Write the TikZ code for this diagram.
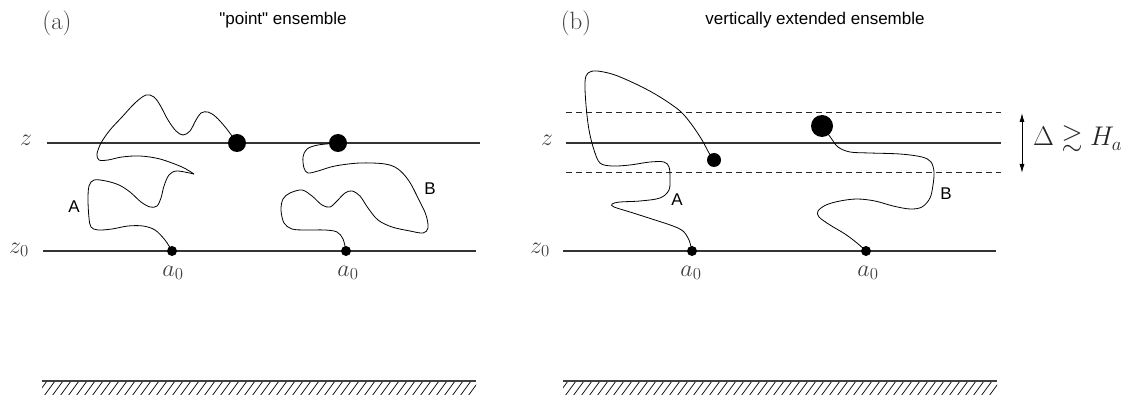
\RequirePackage{fix-cm}
\documentclass[tikz,border=0pt]{standalone}
\usepackage{amssymb}
\usepackage{fontspec}
\newfontfamily\lsans{Liberation Sans}
\usetikzlibrary{arrows.meta}
\tikzset{
  lvl/.style={line width=1.2pt, draw=black!80},
  dashlvl/.style={line width=1pt, draw=black!85, dash pattern=on 6pt off 4pt},
  walk/.style={line width=0.8pt, draw=black},
  dot/.style={circle, fill=black, inner sep=0pt, minimum size=#1},
  mlab/.style={text=black!75, font=\fontsize{24}{28}\selectfont},
  plab/.style={text=black!75, font=\fontsize{25}{29}\selectfont},
  slab/.style={font=\lsans\fontsize{17}{20}\selectfont},
  ground/.style={line width=1.5pt, draw=black!75},
  hatchline/.style={line width=0.7pt, draw=black},
}
\begin{document}
\begin{tikzpicture}[x=1pt,y=-1pt]
\useasboundingbox (0,0) rectangle (1128,395);

% ---------------- panel (a) ----------------
\node[plab] (pa) at (57,23) {(a)};
\node[slab] (ta) at (283,20) {"point" ensemble};

\coordinate (zaL) at (47,143);  \coordinate (zaR) at (480,143);
\coordinate (z0aL) at (43,251); \coordinate (z0aR) at (476,251);
\draw[lvl] (zaL) -- (zaR);
\draw[lvl] (z0aL) -- (z0aR);
\node[mlab] (za) at (26,140) {$z$};
\node[mlab] (z0a) at (19,250) {$z_0$};

% curve A (a)
\draw[walk] plot[smooth, tension=0.55] coordinates {(172,251) (165,240) (155,230) (143,226) (128,226) (112,229) (98,230) (91,227) (89,218) (88,200) (89,186) (94,180) (106,181) (119,185) (130,192) (141,202) (150,207) (157,206) (161,198) (164,186) (169,175) (177,171) (194,174)};
\draw[walk] plot[smooth, tension=0.55] coordinates {(194,174) (182,167) (160,159) (140,156) (122,157) (108,160) (99,160) (97,154) (101,143) (110,130) (122,117) (135,103) (146,95) (154,97) (160,105) (168,120) (176,131) (183,135) (190,131) (196,120) (201,113) (208,112) (216,117) (226,128) (237,143)};
% curve B (a)
\draw[walk] plot[smooth, tension=0.55] coordinates {(346,251) (343,239) (337,232) (325,230) (305,230) (292,229) (284,223) (281,210) (283,199) (290,193) (302,190) (312,196) (322,205) (330,207) (337,201) (345,193) (352,191) (360,196) (368,208) (378,220) (392,227) (410,231) (423,233) (428,228) (426,215) (419,200) (409,181) (398,169) (385,164) (360,163) (335,166) (318,171) (308,173) (304,168) (303,157) (307,149) (318,145) (338,143)};

\node[dot=10pt] (a0Aa) at (172,251) {};
\node[dot=10pt] (a0Ba) at (346,251) {};
\node[dot=18pt] (endAa) at (237,143) {};
\node[dot=18pt] (endBa) at (338,143) {};
\node[mlab] (la0Aa) at (173,273) {$a_0$};
\node[mlab] (la0Ba) at (348,273) {$a_0$};
\node[slab] (lAa) at (74,207) {A};
\node[slab] (lBa) at (430,189) {B};

% ground (a)
\begin{scope}
  \clip (42,381) rectangle (476,396);
  \foreach \x in {28,36,...,484} { \draw[hatchline] (\x,396) -- (\x+11,381); }
\end{scope}
\coordinate (gaL) at (42,381); \coordinate (gaR) at (476,381);
\draw[ground] (gaL) -- (gaR);

% ---------------- panel (b) ----------------
\node[plab] (pb) at (576,23) {(b)};
\node[slab] (tb) at (815,20) {vertically extended ensemble};

\coordinate (zbL) at (566,143);  \coordinate (zbR) at (1001,143);
\coordinate (z0bL) at (563,251); \coordinate (z0bR) at (996,251);
\coordinate (dUL) at (566,113);  \coordinate (dUR) at (1001,113);
\coordinate (dLL) at (566,173);  \coordinate (dLR) at (1001,173);
\draw[lvl] (zbL) -- (zbR);
\draw[lvl] (z0bL) -- (z0bR);
\draw[dashlvl] (dUL) -- (dUR);
\draw[dashlvl] (dLL) -- (dLR);
\node[mlab] (zb) at (547,140) {$z$};
\node[mlab] (z0b) at (540,250) {$z_0$};

\coordinate (arT) at (1022,113); \coordinate (arB) at (1022,173);
\draw[line width=0.9pt, {Latex[length=9pt,width=5pt]}-{Latex[length=9pt,width=5pt]}] (arT) -- (arB);
\node[font=\fontsize{27}{31}\selectfont, text=black!85, anchor=base west, inner sep=0pt] (delta) at (1033,146) {$\Delta\gtrsim H_a$};

% curve A (b)
\draw[walk] plot[smooth, tension=0.55] coordinates {(692,251) (689,240) (683,231) (673,226) (655,220) (630,212) (614,207) (612,204) (620,202) (640,201) (660,198) (669,190) (670,177) (669,167) (664,162) (650,162) (630,165) (612,166) (600,163) (594,150) (589,130) (586,105) (585,82) (588,73) (597,71) (615,75) (640,86) (660,97) (680,111) (692,125) (702,140) (709,153) (714,160)};
% curve B (b)
\draw[walk] plot[smooth, tension=0.55] coordinates {(866,251) (857,243) (845,234) (830,225) (819,217) (818,211) (826,205) (840,201) (857,199) (875,201) (893,206) (910,209) (922,207) (930,198) (933,185) (934,172) (931,162) (922,157) (900,154) (870,153) (850,152) (838,147) (831,138) (822,126)};

\node[dot=10pt] (a0Ab) at (692,251) {};
\node[dot=10pt] (a0Bb) at (866,251) {};
\node[dot=14pt] (endAb) at (714,160) {};
\node[dot=22pt] (endBb) at (822,126) {};
\node[mlab] (la0Ab) at (691,273) {$a_0$};
\node[mlab] (la0Bb) at (868,273) {$a_0$};
\node[slab] (lAb) at (677,200) {A};
\node[slab] (lBb) at (946,194) {B};

% ground (b)
\begin{scope}
  \clip (563,381) rectangle (997,396);
  \foreach \x in {549,557,...,1005} { \draw[hatchline] (\x,396) -- (\x+11,381); }
\end{scope}
\coordinate (gbL) at (563,381); \coordinate (gbR) at (997,381);
\draw[ground] (gbL) -- (gbR);
\end{tikzpicture}
\end{document}
